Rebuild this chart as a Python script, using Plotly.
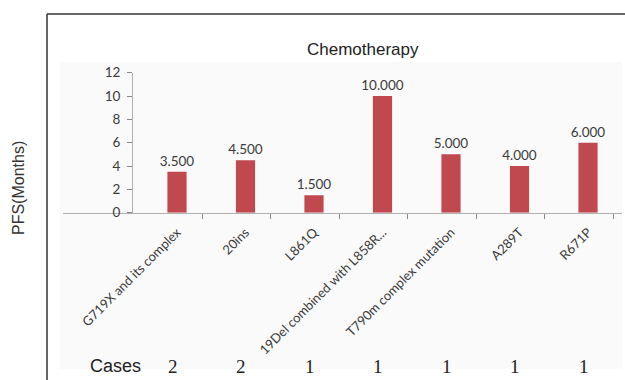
import plotly.graph_objects as go

categories = ["G719X and its complex", "20ins", "L861Q", "19Del combined with L858R...",
              "T790m complex mutation", "A289T", "R671P"]
pfs_months = [3.5, 4.5, 1.5, 10.0, 5.0, 4.0, 6.0]
cases = [2, 2, 1, 1, 1, 1, 1]
y_ticks = [0, 2, 4, 6, 8, 10, 12]

W, H = 625, 380
def px(x):
    return x / W
def py(y):
    return 1 - y / H

pos = list(range(len(categories)))
bar_color = "#c0484f"
txt = "#3a3a3a"
axis_col = "#b0b0b0"

fig = go.Figure()
fig.add_trace(go.Bar(
    x=pos, y=pfs_months, width=0.28, marker=dict(color=bar_color, line=dict(width=0)),
    text=[f"{v:.3f}" for v in pfs_months], textposition="outside", constraintext="none",
    textfont=dict(family="Lato", size=13.5, color=txt), cliponaxis=False,
    hoverinfo="skip", showlegend=False,
))
# invisible trace to carry the boundary tick axis
fig.add_trace(go.Scatter(x=[pos[0]], y=[0], xaxis="x2", mode="markers",
                         marker=dict(opacity=0), showlegend=False, hoverinfo="skip"))

x0 = -(177 - 63) / 68.5
x1 = x0 + (622 - 63) / 68.5

fig.update_layout(
    width=W, height=H, margin=dict(l=0, r=0, t=0, b=0),
    paper_bgcolor="white", plot_bgcolor="rgba(0,0,0,0)",
    xaxis=dict(domain=[px(63), px(622)], range=[x0, x1], tickvals=pos, ticktext=categories,
               tickangle=-45, ticks="", showline=True, linecolor=axis_col, linewidth=1,
               showgrid=False, zeroline=False, automargin=False, ticklabelstandoff=6,
               tickfont=dict(family="Lato", size=13, color=txt)),
    xaxis2=dict(domain=[px(63), px(622)], range=[x0, x1], overlaying="x", anchor="y",
                tickvals=[p + 0.365 for p in pos], showticklabels=False, ticks="outside",
                ticklen=5, tickcolor="#888888", showline=False, showgrid=False,
                zeroline=False, automargin=False),
    yaxis=dict(domain=[py(212.7), py(72.7)], range=[0, 12], tickvals=y_ticks,
               anchor="free", position=px(132), showline=True, linecolor=axis_col,
               ticks="outside", ticklen=5, tickcolor="#888888", showgrid=False,
               zeroline=False, automargin=False, ticklabelstandoff=4,
               tickfont=dict(family="Lato", size=13.5, color=txt)),
    bargap=0.7,
    hovermode=False,
)

# panel background and border lines
fig.add_shape(type="rect", xref="paper", yref="paper", x0=px(60), x1=px(622),
              y0=py(369), y1=py(62), fillcolor="#fafafa", line=dict(width=0), layer="below")
fig.add_shape(type="line", xref="paper", yref="paper", x0=px(47), x1=px(47),
              y0=0, y1=py(14), line=dict(color="#333333", width=1.5))
fig.add_shape(type="line", xref="paper", yref="paper", x0=px(47), x1=1,
              y0=py(14), y1=py(14), line=dict(color="#333333", width=1.5))

def note(text, x, y, size, family, xref="paper", angle=0, color="#222222"):
    fig.add_annotation(text=text, xref=xref, yref="paper", x=x, y=y, xanchor="center",
                       yanchor="middle", textangle=angle, showarrow=False,
                       font=dict(family=family, size=size, color=color))

note("Chemotherapy", px(363), py(50), 17, "Liberation Sans")
note("PFS(Months)", px(18), py(188), 16, "Liberation Sans", angle=-90, color="#333333")
note("Cases", px(115), py(366), 18, "Liberation Sans")
for p, c in zip(pos, cases):
    note(str(c), p - 0.06, py(366), 19, "Liberation Serif", xref="x")

fig.write_html("out.html", config={"displayModeBar": False},
               post_script="document.body.style.margin='0px';document.body.style.overflow='hidden';")
